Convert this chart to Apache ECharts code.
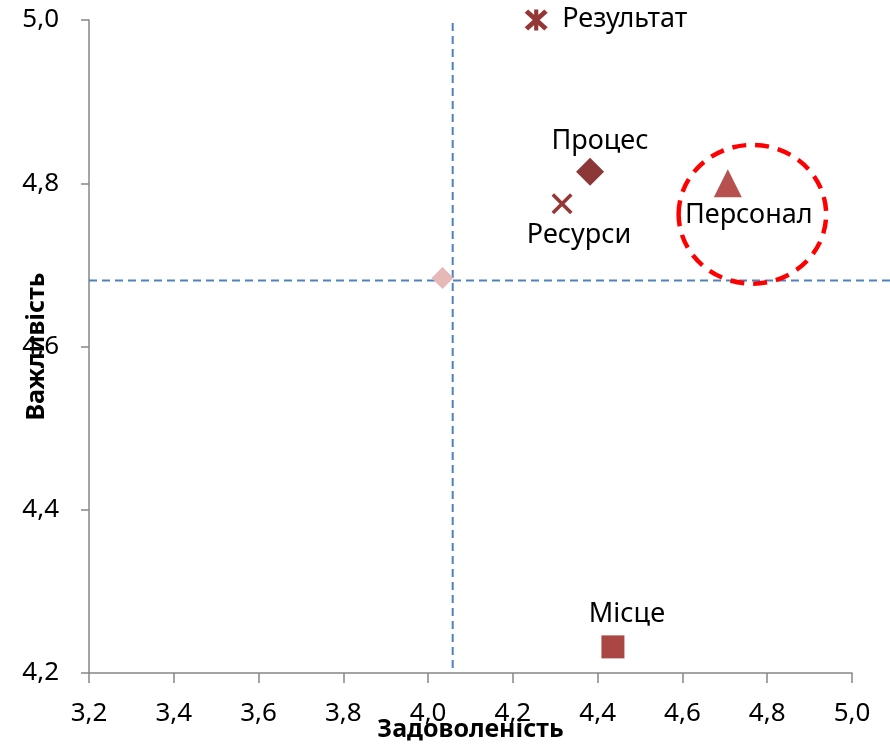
<!DOCTYPE html>
<html style="height: 100%">
    <head>
        <title>Задоволеність / Важливість</title>
        <script type="text/javascript" src="https://fastly.jsdelivr.net/npm/echarts@6.0.0/dist/echarts.min.js"></script>
    </head>
    <body style="height: 100%; margin: 0">
        <div id="target" style="height: 100%"></div>
<script>

// data
const names = ["Результат", "Процес", "Ресурси", "Персонал", "Місце"];
const satisfaction = [4.255, 4.382, 4.316, 4.707, 4.436];
const importance = [5.0, 4.814, 4.775, 4.80, 4.232];

const meanPoint = [4.034, 4.684];
// x1, y1, x2, y2
const meanLineV = [4.058, 4.206, 4.058, 5.0];
const meanLineH = [3.2, 4.681, 5.09, 4.681];

// centre x, centre y, radius x, radius y (axis units)
const highlight = [4.765, 4.762, 0.174, 0.085];

const xRange = [3.2, 5.0, 0.2];
const yRange = [4.2, 5.0, 0.2];

const FONT = "Noto Sans";

// marker styles per point
const xMark = "path://M0,1.2L1.2,0L10,8.8L8.8,10Z M8.8,0L10,1.2L1.2,10L0,8.8Z";
const starMark = "path://M0,1.5L1.5,0L10,8.5L8.5,10Z M8.5,0L10,1.5L1.5,10L0,8.5Z M4.1,0H5.9V10H4.1Z";

const pointStyle = [
    { symbol: starMark, size: [23, 21], color: "#953735", label: { align: "left", offset: [26, -1] } },
    { symbol: "diamond", size: 28, color: "#8C3836", label: { offset: [10, -31] } },
    { symbol: xMark, size: 21, color: "#953735", label: { offset: [17, 32] } },
    { symbol: "triangle", size: 28, color: "#B65150", label: { offset: [21, 32] } },
    { symbol: "rect", size: 23, color: "#AA4643", label: { offset: [14, -33] } },
];

let chart = echarts.init(document.getElementById("target"));

const tickFmt = v => v.toFixed(1).replace(".", ",");

let series = [];

series.push({
    name: "mean",
    type: "scatter",
    symbol: "diamond",
    symbolSize: 22,
    itemStyle: { color: "#E6B9B8", opacity: 1 },
    data: [meanPoint],
    silent: true,
});

series.push({
    name: "meanLines",
    type: "custom",
    data: [meanLineV, meanLineH],
    silent: true,
    clip: false,
    renderItem: (params, api) => {
        const a = api.coord([api.value(0), api.value(1)]);
        const b = api.coord([api.value(2), api.value(3)]);
        return {
            type: "line",
            shape: { x1: a[0], y1: a[1], x2: b[0], y2: b[1] },
            style: { stroke: "#4F81BD", lineWidth: 2, lineDash: [8, 5] },
        };
    },
});

names.forEach((n, i) => {
    const st = pointStyle[i];
    series.push({
        name: n,
        type: "scatter",
        symbol: st.symbol,
        symbolSize: st.size,
        itemStyle: { color: st.color, opacity: 1 },
        data: [[satisfaction[i], importance[i]]],
        label: Object.assign({
            show: true,
            position: "inside",
            formatter: n,
            color: "#000",
            fontSize: 27,
            fontFamily: FONT,
        }, st.label),
        z: 5,
    });
});

series.push({
    name: "highlight",
    type: "custom",
    data: [highlight],
    silent: true,
    clip: false,
    z: 6,
    renderItem: (params, api) => {
        const c = api.coord([api.value(0), api.value(1)]);
        const s = api.size([api.value(2), api.value(3)]);
        return {
            type: "path",
            shape: {
                pathData: "M0,1A1,1,0,1,1,2,1A1,1,0,1,1,0,1Z",
                x: c[0] - s[0],
                y: c[1] - s[1],
                width: 2 * s[0],
                height: 2 * s[1],
                layout: "cover",
            },
            style: { fill: "none", stroke: "#FF0000", lineWidth: 4.5, lineDash: [14, 9] },
        };
    },
});

let option = {
    animation: false,
    grid: { left: 89, right: 38, top: 20, bottom: 72, containLabel: false, outerBoundsMode: "none" },
    xAxis: {
        type: "value",
        min: xRange[0],
        max: xRange[1],
        interval: xRange[2],
        name: "Задоволеність",
        nameLocation: "middle",
        nameGap: 44,
        nameMoveOverlap: false,
        nameTextStyle: { fontFamily: FONT, fontSize: 25, fontWeight: "bold", color: "#000" },
        axisLine: { lineStyle: { color: "#868686", width: 1.5 } },
        axisTick: { length: 10, lineStyle: { color: "#868686", width: 1.5 } },
        axisLabel: { formatter: tickFmt, fontFamily: FONT, fontSize: 26, color: "#000", margin: 28, showMinLabel: true, showMaxLabel: true },
        splitLine: { show: false },
    },
    yAxis: {
        type: "value",
        min: yRange[0],
        max: yRange[1],
        interval: yRange[2],
        name: "Важливість",
        nameLocation: "middle",
        nameGap: 40,
        nameMoveOverlap: false,
        nameTextStyle: { fontFamily: FONT, fontSize: 25, fontWeight: "bold", color: "#000" },
        axisLine: { lineStyle: { color: "#868686", width: 1.5 } },
        axisTick: { length: 8, lineStyle: { color: "#868686", width: 1.5 } },
        axisLabel: { formatter: tickFmt, fontFamily: FONT, fontSize: 26, color: "#000", margin: 30, showMinLabel: true, showMaxLabel: true },
        splitLine: { show: false },
    },
    series: series,
};

chart.setOption(option);
window.addEventListener("resize", chart.resize);

</script>
    </body>
</html>
